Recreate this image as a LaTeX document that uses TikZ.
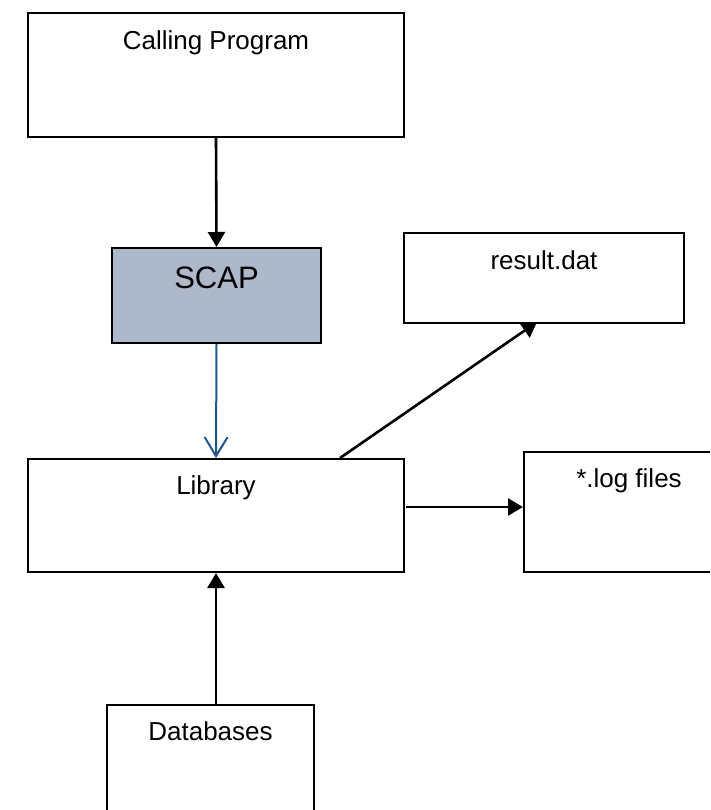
\documentclass[tikz,border=0pt]{standalone}
\usepackage{fontspec}
\setmainfont{Liberation Sans}
\usetikzlibrary{arrows.meta}
\definecolor{scapfill}{RGB}{173,185,202}
\definecolor{flowblue}{RGB}{31,84,140}
\begin{document}
\begin{tikzpicture}[x=1pt,y=-1pt,
  box/.style={draw=black, line width=2pt, rectangle, inner sep=0pt, anchor=north west},
  lbl/.style={inner sep=0pt, anchor=base, font=\fontsize{26}{30}\selectfont},
  arr/.style={draw=black, line width=2.6pt, -{Triangle[length=15pt,width=17pt]}},
  barb/.style={draw=flowblue, line width=2pt, -{Straight Barb[length=19pt,width=23pt,line width=2pt]}}]
\useasboundingbox (0,0) rectangle (710,810);
\clip (0,0) rectangle (710,810);
\fill[white] (0,0) rectangle (710,810);
\node[box, minimum width=376pt, minimum height=124pt] (cp) at (27,12) {};
\node[box, fill=scapfill, minimum width=209pt, minimum height=95pt] (scap) at (111,247) {};
\node[box, minimum width=376pt, minimum height=113pt] (lib) at (27,458) {};
\node[box, minimum width=280pt, minimum height=90pt] (res) at (403,232) {};
\node[box, minimum width=210pt, minimum height=120pt] (log) at (523,451) {};
\node[box, minimum width=207pt, minimum height=130pt] (db) at (106,704) {};
\node[lbl] (cpt) at ([yshift=-38pt]cp.north) {Calling Program};
\node[lbl, font=\fontsize{31}{36}\selectfont] (scapt) at ([yshift=-41pt]scap.north) {SCAP};
\node[lbl] (libt) at ([yshift=-36pt]lib.north) {Library};
\node[lbl] (rest) at ([yshift=-37pt]res.north) {result.dat};
\node[lbl] (logt) at ([yshift=-36pt]log.north) {*.log files};
\node[lbl] (dbt) at ([yshift=-36pt]db.north) {Databases};
\coordinate (libout) at (406,507);
\coordinate (libtop) at (340,458);
\coordinate (resin) at (537,322);
\draw[arr] (cp.south) -- (scap.north);
\draw[barb] (scap.south) -- (lib.north);
\draw[arr] (libtop) -- (resin);
\draw[arr] (libout) -- (libout -| log.west);
\draw[arr] (lib.south |- db.north) -- (lib.south);
\end{tikzpicture}
\end{document}
